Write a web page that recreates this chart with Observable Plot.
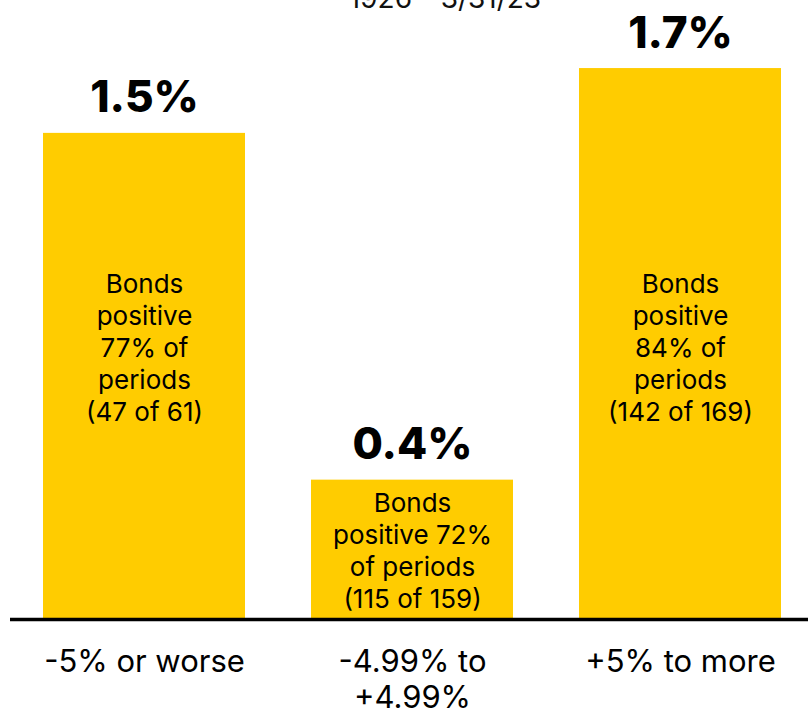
<!DOCTYPE html>
<html>
<head>
<meta charset="utf-8">
<script src="https://cdn.jsdelivr.net/npm/d3@7"></script>
<script src="https://cdn.jsdelivr.net/npm/@observablehq/plot@0.6"></script>
<style>
  html, body { margin: 0; padding: 0; background: #fff; overflow: hidden; }
  #wrap { position: relative; width: 808px; height: 709px; font-family: Inter, "Noto Sans", sans-serif; }
  #title { position: absolute; top: -16px; left: 0; width: 890px; text-align: center; font-size: 28px; color: #111; line-height: 28px; }
  #chart { position: absolute; top: 0; left: 0; }
</style>
</head>
<body>
<div id="wrap">
  <div id="chart"></div>
  <div id="title">1926 - 3/31/23</div>
</div>
<script>
const categories = ["-5% or worse", "-4.99% to\n+4.99%", "+5% to more"];
const values = [1.5, 0.43, 1.7];
const valueLabels = ["1.5%", "0.4%", "1.7%"];
const notes = [
  "Bonds\npositive\n77% of\nperiods\n(47 of 61)",
  "Bonds\npositive 72%\nof periods\n(115 of 159)",
  "Bonds\npositive\n84% of\nperiods\n(142 of 169)"
];

const data = categories.map((c, i) => ({
  cat: c, v: values[i], label: valueLabels[i], note: notes[i],
  noteY: values[i] > 1 ? 0.842 : values[i] / 2
}));

const plot = Plot.plot({
  width: 808,
  height: 709,
  marginTop: 0,
  marginBottom: 90,
  marginLeft: 10,
  marginRight: 0,
  style: { fontFamily: "Inter, 'Noto Sans', sans-serif", background: "#fff", color: "#000" },
  x: { domain: categories, range: [10, 814], paddingInner: 0.2463, paddingOuter: 0.1231, axis: null },
  y: { domain: [0, 1.91], axis: null },
  marks: [
    Plot.barY(data, { x: "cat", y: "v", fill: "#FFCC00" }),
    Plot.ruleY([0], { stroke: "#000", strokeWidth: 3.5 }),
    Plot.text(data, { x: "cat", y: "v", text: "label", dy: -35, fontSize: 44, fontWeight: 800, fill: "#000", lineAnchor: "middle" }),
    Plot.text(data, { x: "cat", y: "noteY", text: "note", fontSize: 26, lineHeight: 1.23, fill: "#000", lineAnchor: "middle" }),
    Plot.text(data, { x: "cat", y: 0, text: "cat", dy: 27, fontSize: 31, lineHeight: 1.16, fill: "#000", lineAnchor: "top" })
  ]
});
document.getElementById("chart").appendChild(plot);
</script>
</body>
</html>
